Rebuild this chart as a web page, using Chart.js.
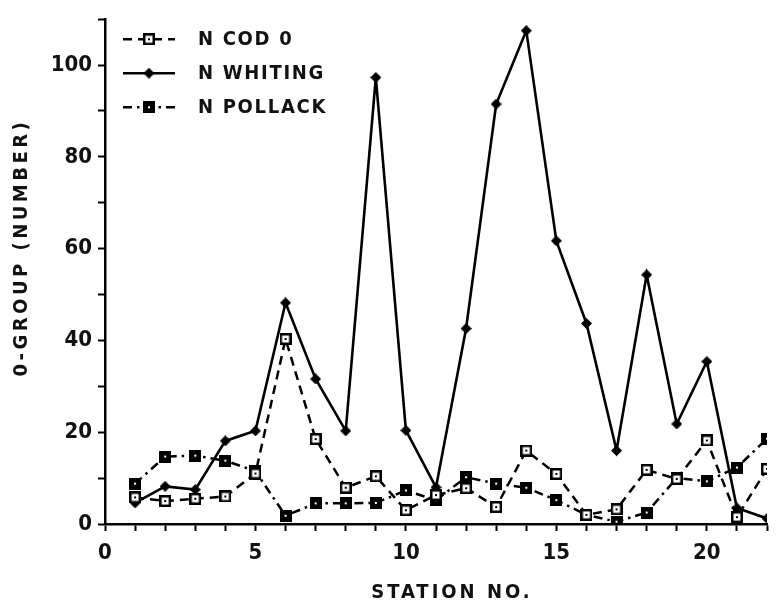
<!DOCTYPE html>
<html>
<head>
<meta charset="utf-8">
<title>0-group by station</title>
<script src="https://cdn.jsdelivr.net/npm/chart.js@4.4.1/dist/chart.umd.min.js"></script>
<style>
  body { margin: 0; background: #fff; }
  canvas { display: block; }
</style>
</head>
<body>
<canvas id="myChart" width="776" height="605"></canvas>
<script>
const stations = [1, 2, 3, 4, 5, 6, 7, 8, 9, 10, 11, 12, 13, 14, 15, 16, 17, 18, 19, 20, 21, 22]
const codValues = [5.8, 5, 5.5, 6, 11, 40.3, 18.5, 7.9, 10.4, 3, 6.3, 7.8, 3.7, 16, 10.9, 2, 3.2, 11.8, 9.8, 18.2, 1.5, 12]
const whitingValues = [4.6, 8.2, 7.5, 18.1, 20.3, 48.2, 31.6, 20.3, 97.3, 20.4, 8, 42.6, 91.5, 107.5, 61.7, 43.7, 16, 54.3, 21.8, 35.4, 3.5, 1.2]
const pollackValues = [8.8, 14.7, 14.9, 13.8, 11.5, 1.8, 4.5, 4.5, 4.6, 7.3, 5.2, 10.2, 8.8, 7.9, 5.2, 2, 0.5, 2.5, 10, 9.3, 12.3, 18.6]
const seriesNames = ['N COD 0', 'N WHITING', 'N POLLACK']
const xTickLabels = [0, 5, 10, 15, 20]
const yTickLabels = [0, 20, 40, 60, 80, 100]
const xTitle = 'STATION NO.'
const yTitle = '0-GROUP (NUMBER)'

const FONT = "'DejaVu Sans Condensed', 'Liberation Sans Narrow', sans-serif"
const INK = '#111'

// little canvases used as point markers (and reused in the legend)
function squareMarker(filled) {
    var c = document.createElement('canvas')
    c.width = 12
    c.height = 12
    var ctx = c.getContext('2d')
    ctx.fillStyle = '#000'
    ctx.fillRect(0, 0, 12, 12)
    ctx.fillStyle = '#fff'
    if (!filled) {
        ctx.fillRect(2.5, 2.5, 7, 7)
        ctx.fillStyle = '#000'
    }
    ctx.fillRect(5, 5, 2, 2)
    return c
}

function diamondMarker() {
    var c = document.createElement('canvas')
    c.width = 11
    c.height = 11
    var ctx = c.getContext('2d')
    ctx.fillStyle = '#000'
    ctx.beginPath()
    ctx.moveTo(5.5, 0)
    ctx.lineTo(11, 5.5)
    ctx.lineTo(5.5, 11)
    ctx.lineTo(0, 5.5)
    ctx.closePath()
    ctx.fill()
    return c
}

function toPoints(values) {
    return stations.map((s, i) => ({ x: s, y: values[i] }))
}

const legendPlugin = {
    id: 'cornerLegend',
    afterDatasetsDraw(chart) {
        const ctx = chart.ctx
        const area = chart.chartArea
        ctx.save()
        ctx.font = 'bold 20px ' + FONT
        ctx.letterSpacing = '1.7px'
        ctx.textBaseline = 'middle'
        ctx.textAlign = 'left'
        ctx.fillStyle = INK
        chart.data.datasets.forEach((ds, i) => {
            var y = area.top + 20 + i * 34
            var x0 = area.left + 18
            ctx.strokeStyle = '#000'
            ctx.lineWidth = ds.borderWidth
            ctx.setLineDash(ds.borderDash || [])
            ctx.beginPath()
            ctx.moveTo(x0, y)
            ctx.lineTo(x0 + 52, y)
            ctx.stroke()
            ctx.setLineDash([])
            var img = ds.pointStyle
            ctx.drawImage(img, x0 + 26 - img.width / 2, y - img.height / 2)
            ctx.fillText(ds.label, x0 + 75, y + 1)
        })
        ctx.restore()
    }
}

// axis titles, spaced out like the plotter lettering
const axisTitlePlugin = {
    id: 'axisTitles',
    afterDraw(chart) {
        const ctx = chart.ctx
        const area = chart.chartArea
        ctx.save()
        ctx.font = 'bold 20px ' + FONT
        ctx.fillStyle = INK
        ctx.textAlign = 'center'
        ctx.textBaseline = 'middle'
        ctx.letterSpacing = '3px'
        ctx.fillText(xTitle, (area.left + area.right) / 2 + 16, chart.height - 12)
        ctx.letterSpacing = '3.5px'
        ctx.translate(22, (area.top + area.bottom) / 2 - 24)
        ctx.rotate(-Math.PI / 2)
        ctx.fillText(yTitle, 0, 0)
        ctx.restore()
    }
}

const data = {
    datasets: [{
        label: seriesNames[0],
        data: toPoints(codValues),
        borderColor: '#000',
        borderWidth: 2.5,
        borderDash: [9, 6],
        pointStyle: squareMarker(false)
    }, {
        label: seriesNames[1],
        data: toPoints(whitingValues),
        borderColor: '#000',
        borderWidth: 2.6,
        pointStyle: diamondMarker()
    }, {
        label: seriesNames[2],
        data: toPoints(pollackValues),
        borderColor: '#000',
        borderWidth: 2.5,
        borderDash: [9, 5, 2.5, 5],
        pointStyle: squareMarker(true)
    }]
}

const axisCommon = {
    border: { display: true, color: '#000', width: 2.5 },
    grid: {
        drawOnChartArea: false,
        drawTicks: true,
        tickLength: 7,
        tickWidth: 2,
        tickColor: '#000'
    }
}

const config = {
    type: 'line',
    data,
    plugins: [legendPlugin, axisTitlePlugin],
    options: {
        responsive: false,
        animation: false,
        events: [],
        tension: 0,
        layout: { padding: { top: 15, right: 0, left: 0, bottom: 0 } },
        plugins: {
            legend: { display: false },
            tooltip: { enabled: false }
        },
        scales: {
            x: {
                ...axisCommon,
                type: 'linear',
                min: 0,
                max: 22,
                afterFit: (scale) => { scale.height = 81 },
                ticks: {
                    stepSize: 1,
                    autoSkip: false,
                    maxRotation: 0,
                    padding: 9,
                    color: INK,
                    font: { family: FONT, size: 22, weight: 'bold' },
                    callback: (v) => xTickLabels.includes(v) ? String(v) : ''
                }
            },
            y: {
                ...axisCommon,
                min: 0,
                max: 110,
                afterFit: (scale) => { scale.width = 105 },
                ticks: {
                    stepSize: 10,
                    autoSkip: false,
                    padding: 6,
                    color: INK,
                    font: { family: FONT, size: 22, weight: 'bold' },
                    callback: (v) => yTickLabels.includes(v) ? String(v) : ''
                }
            }
        }
    }
}

var chart = new Chart(document.getElementById('myChart'), config)
</script>
</body>
</html>
